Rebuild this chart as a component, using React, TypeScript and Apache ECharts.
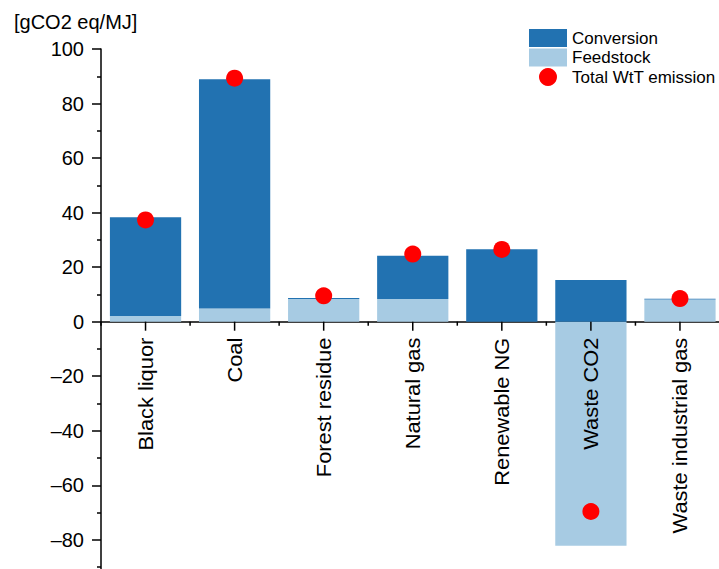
import React, { useEffect, useRef } from "react";
import * as echarts from "echarts";

// Well-to-tank emissions per pathway, gCO2 eq/MJ
const categories = [
  "Black liquor",
  "Coal",
  "Forest residue",
  "Natural gas",
  "Renewable NG",
  "Waste CO2",
  "Waste industrial gas",
];
const feedstock = [2.1, 4.8, 8.3, 8.3, 0, -82.2, 8.1];
const conversion = [36.2, 84.1, 0.4, 15.9, 26.6, 15.3, 0.3];
const totalWtT = [37.3, 89.3, 9.5, 24.8, 26.5, -69.6, 8.5];

const FONT = "Arial, 'Liberation Sans', sans-serif";
const DARK = "#2272b1";
const LIGHT = "#a7cbe3";

// Category ticks and rotated names hanging from the zero line
function renderCategoryAxis(params: any, api: any) {
  const idx = api.value(0);
  const [cx, y0] = api.coord([idx, 0]);
  const band = api.size([1, 0])[0];
  const tickStyle = { stroke: "#000", lineWidth: 1.5 };
  const children: any[] = [
    { type: "line", shape: { x1: cx, y1: y0, x2: cx, y2: y0 + 9 }, style: tickStyle },
    {
      type: "line",
      shape: { x1: cx - band / 2, y1: y0, x2: cx - band / 2, y2: y0 + 4 },
      style: tickStyle,
    },
    {
      type: "text",
      x: cx,
      y: y0 + 16,
      rotation: Math.PI / 2,
      scaleX: 1.12,
      style: {
        text: categories[idx],
        align: "right",
        verticalAlign: "middle",
        fontSize: 19.5,
        fontFamily: FONT,
        fill: "#000",
      },
    },
  ];
  if (idx === categories.length - 1) {
    children.push({
      type: "line",
      shape: { x1: cx + band / 2, y1: y0, x2: cx + band / 2, y2: y0 + 4 },
      style: tickStyle,
    });
  }
  return { type: "group", children };
}

// Tick labels with a long dash for negative values
function formatTick(v: number) {
  if (v === -100) return "";
  return v < 0 ? "\u2013" + Math.abs(v) : String(v);
}

export default function App() {
  const ref = useRef<HTMLDivElement>(null);

  useEffect(() => {
    if (!ref.current) return;
    const chart = echarts.init(ref.current, null, { renderer: "svg" });
    chart.setOption({
      animation: false,
      backgroundColor: "#ffffff",
      textStyle: { fontFamily: FONT },
      grid: {
        left: 101,
        top: 49,
        right: 5.5,
        bottom: 25.6,
        containLabel: false,
        outerBoundsMode: "none",
      },
      legend: {
        orient: "vertical",
        left: 524,
        top: 24,
        itemWidth: 38,
        itemHeight: 18,
        itemGap: 1.5,
        itemTextGap: 5,
        textStyle: { fontSize: 17, color: "#000", fontFamily: FONT },
        data: [
          { name: "Conversion", icon: "rect" },
          { name: "Feedstock", icon: "rect" },
          { name: "Total WtT emission", icon: "circle" },
        ],
      },
      graphic: [
        {
          type: "text",
          left: 14,
          top: 12,
          style: {
            text: "[gCO2 eq/MJ]",
            fontSize: 20,
            fill: "#000",
            fontFamily: FONT,
          },
        },
      ],
      xAxis: {
        type: "category",
        data: categories,
        axisLine: { show: true, onZero: true, lineStyle: { color: "#000", width: 1.5 } },
        axisTick: { show: false },
        axisLabel: { show: false },
        splitLine: { show: false },
      },
      yAxis: {
        type: "value",
        min: -100,
        max: 100,
        interval: 20,
        axisLine: { show: true, onZero: false, lineStyle: { color: "#000", width: 1.5 } },
        axisTick: { show: true, length: 9, lineStyle: { color: "#000", width: 1.5 } },
        minorTick: { show: true, splitNumber: 2, length: 4, lineStyle: { color: "#000", width: 1.5 } },
        splitLine: { show: false },
        axisLabel: {
          margin: 17,
          fontSize: 20,
          color: "#000",
          fontFamily: FONT,
          formatter: formatTick,
        },
      },
      series: [
        {
          name: "Feedstock",
          type: "bar",
          stack: "wtt",
          barWidth: "80%",
          itemStyle: { color: LIGHT },
          data: feedstock,
        },
        {
          name: "Conversion",
          type: "bar",
          stack: "wtt",
          barWidth: "80%",
          itemStyle: { color: DARK },
          data: conversion,
        },
        {
          name: "category axis",
          type: "custom",
          silent: true,
          clip: false,
          z: 4,
          renderItem: renderCategoryAxis,
          data: categories.map((c) => [c, 0]),
        },
        {
          name: "Total WtT emission",
          type: "scatter",
          symbol: "circle",
          symbolSize: 17,
          z: 5,
          itemStyle: { color: "#ff0000", opacity: 1 },
          data: totalWtT,
        },
      ],
    });
    return () => chart.dispose();
  }, []);

  return (
    <div
      style={{
        position: "fixed",
        left: 0,
        top: 0,
        width: 719,
        height: 569,
        overflow: "hidden",
        background: "#fff",
      }}
    >
      <div ref={ref} style={{ width: 730, height: 620 }} />
    </div>
  );
}
